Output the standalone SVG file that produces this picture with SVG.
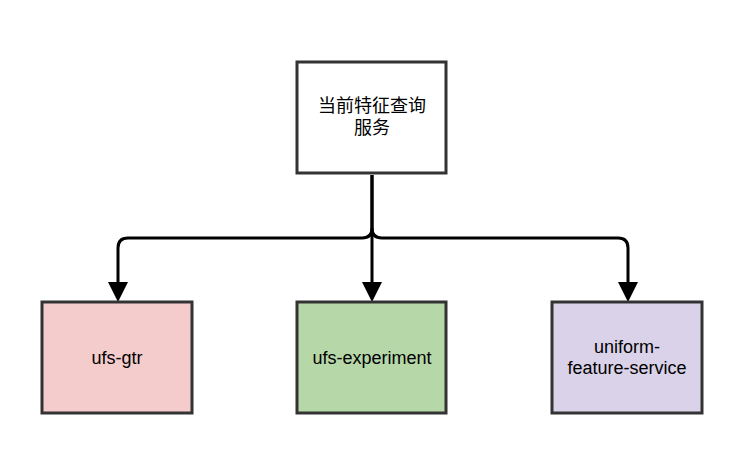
<svg xmlns="http://www.w3.org/2000/svg" width="742" height="466" viewBox="0 0 742 466">
<defs>
<style>
.box{stroke:#333333;stroke-width:3}
.t{font-family:"Liberation Sans",Arial,sans-serif;font-size:18px;fill:#000;text-anchor:middle}
.cn{font-family:"Liberation Sans","Noto Sans CJK SC",sans-serif;font-size:18px;fill:#000;text-anchor:middle}
.c{fill:none;stroke:#000;stroke-width:3}
</style>
<marker id="arr" markerWidth="20" markerHeight="20" viewBox="0 0 20 20" refX="4" refY="10" orient="auto" markerUnits="userSpaceOnUse">
<polygon points="0,0 20,10 0,20" fill="#000"/>
</marker>
</defs>
<rect width="742" height="466" fill="#ffffff"/>
<g id="connectors">
<path class="c" d="M372,175 L372,228 Q372,238 362,238 L128,238 Q118,238 118,248 L118,286" marker-end="url(#arr)"/>
<path class="c" d="M372,175 L372,286" marker-end="url(#arr)"/>
<path class="c" d="M372,228 Q372,238 382,238 L618,238 Q628,238 628,248 L628,286" marker-end="url(#arr)"/>
</g>
<g id="service">
<rect class="box" x="297" y="62" width="149" height="111" fill="#ffffff"/>
<text class="cn" x="372" y="112">当前特征查询</text>
<text class="cn" x="372" y="134">服务</text>
</g>
<g id="ufs-gtr">
<rect class="box" x="42" y="302" width="150" height="111" fill="#f4cccc"/>
<text class="t" x="117" y="364">ufs-gtr</text>
</g>
<g id="ufs-experiment">
<rect class="box" x="297" y="302" width="149" height="111" fill="#b6d7a8"/>
<text class="t" x="372" y="364">ufs-experiment</text>
</g>
<g id="uniform-feature-service">
<rect class="box" x="552" y="302" width="150" height="111" fill="#d9d2e9"/>
<text class="t" x="627" y="353">uniform-</text>
<text class="t" x="627" y="374">feature-service</text>
</g>
</svg>
